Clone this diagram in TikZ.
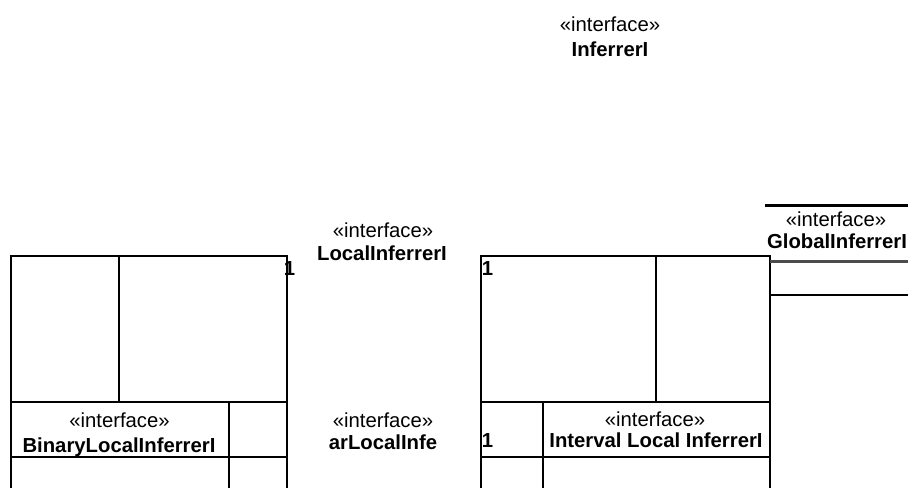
\documentclass[tikz,border=0pt]{standalone}
\usepackage{fontspec}
\setmainfont{Liberation Sans}
\begin{document}
\begin{tikzpicture}[x=1pt,y=-1pt,
  txt/.style={inner sep=0pt,anchor=base,font=\fontsize{20.3}{24}\selectfont},
  stereo/.style={txt},
  cname/.style={txt,font=\fontsize{20.3}{24}\selectfont\bfseries},
  mult/.style={txt,font=\fontsize{20.3}{24}\selectfont\bfseries},
  frame/.style={draw=black,line width=1.1pt}]
\useasboundingbox (0,0) rectangle (908,488);

% Inferrer
\node[stereo] (infS) at (610,31) {«interface»};
\node[cname] (infN) at (610,56) {InferrerI};

% LocalInferrer
\node[stereo] (locS) at (383,237) {«interface»};
\node[cname] (locN) at (382,260) {LocalInferrerI};

% left structure
\draw[frame] (11,488) -- (11,256) -- (287,256) -- (287,488);
\draw[frame] (119,256) -- (119,402);
\draw[frame] (11,402) -- (287,402);
\draw[frame] (229,402) -- (229,488);
\draw[frame] (11,457) -- (287,457);
\node[stereo] (binS) at (119.5,427) {«interface»};
\node[cname] (binN) at (119,452) {BinaryLocalInferrerI};
\node[mult] (m1) at (289.5,275) {1};

% middle lower
\node[stereo] (linS) at (383,427) {«interface»};
\node[cname] (linN) at (383,449) {arLocalInfe};

% right structure
\draw[frame] (481,488) -- (481,256) -- (770,256) -- (770,488);
\draw[frame] (656,256) -- (656,402);
\draw[frame] (481,402) -- (770,402);
\draw[frame] (543,402) -- (543,488);
\draw[frame] (481,457) -- (770,457);
\node[mult] (m2) at (487.5,275) {1};
\node[mult] (m3) at (487.5,447) {1};
\node[stereo] (intS) at (655,426) {«interface»};
\node[cname] (intN) at (656,447) {Interval Local InferrerI};

% Global inferrer
\draw[line width=3pt] (765,205) -- (908,205);
\node[stereo] (gloS) at (836,226) {«interface»};
\begin{scope}
  \clip (767,0) rectangle (908,488);
  \node[cname] (gloN) at (837,248) {GlobalInferrerI};
\end{scope}
\draw[line width=3pt,draw=black!70] (770,261) -- (908,261);
\draw[line width=2pt] (770,294.5) -- (908,294.5);
\end{tikzpicture}
\end{document}
